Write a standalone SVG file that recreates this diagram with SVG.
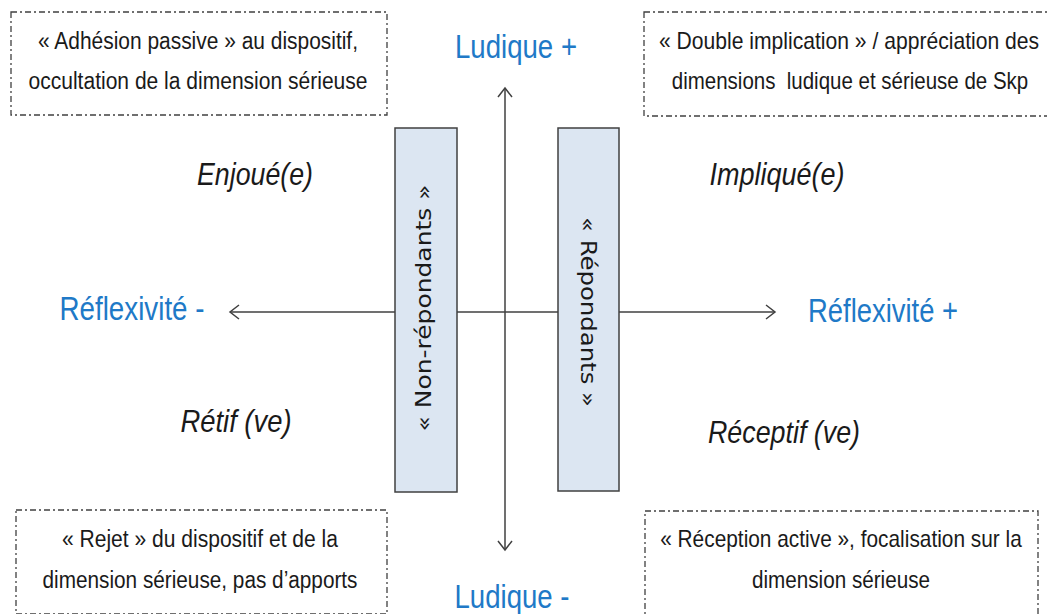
<svg xmlns="http://www.w3.org/2000/svg" width="1047" height="614" viewBox="0 0 1047 614">
  <style>
    .box { fill: none; stroke: #404040; stroke-width: 1.3; stroke-dasharray: 6 3 2 3; }
    .bt { font-family: "Liberation Sans", Arial, sans-serif; font-size: 23px; fill: #1a1a1a; text-anchor: middle; }
    .ax { font-family: "Liberation Sans", Arial, sans-serif; font-size: 33px; fill: #2079C7; text-anchor: middle; }
    .it { font-family: "Liberation Sans", Arial, sans-serif; font-size: 32px; font-style: italic; fill: #1a1a1a; text-anchor: middle; }
    .bar { fill: #DCE6F2; stroke: #404040; stroke-width: 1.5; }
    .vt { font-family: "DejaVu Sans", Verdana, sans-serif; font-size: 21px; fill: #1a1a1a; text-anchor: middle; }
    .axis { stroke: #404040; stroke-width: 1.5; fill: none; }
  </style>
  <defs>
    <marker id="arr" viewBox="-10 -8 12 16" markerWidth="12" markerHeight="16" refX="0" refY="0" orient="auto-start-reverse" markerUnits="userSpaceOnUse">
      <path d="M -9 -7 L 0 0 L -9 7" fill="none" stroke="#404040" stroke-width="1.5"/>
    </marker>
  </defs>
  <rect width="1047" height="614" fill="#ffffff"/>

  <g id="connectors">
    <line class="axis" x1="230" y1="312" x2="775" y2="312" marker-start="url(#arr)" marker-end="url(#arr)"/>
    <line class="axis" x1="505" y1="88" x2="505" y2="550" marker-start="url(#arr)" marker-end="url(#arr)"/>
  </g>

  <g id="box-tl">
    <rect class="box" x="11" y="12" width="376" height="103"/>
    <text class="bt" x="198" y="49" textLength="320" lengthAdjust="spacingAndGlyphs">« Adhésion passive » au dispositif,</text>
    <text class="bt" x="198" y="89" textLength="339" lengthAdjust="spacingAndGlyphs">occultation de la dimension sérieuse</text>
  </g>
  <g id="box-tr">
    <rect class="box" x="644" y="12" width="410" height="104"/>
    <text class="bt" transform="translate(849 49) scale(0.88 1)" x="0" y="0" textLength="432" lengthAdjust="spacingAndGlyphs">« Double implication » / appréciation des</text>
    <text class="bt" transform="translate(850 89) scale(0.88 1)" x="0" y="0" textLength="405" lengthAdjust="spacingAndGlyphs" xml:space="preserve">dimensions  ludique et sérieuse de Skp</text>
  </g>
  <g id="box-bl">
    <rect class="box" x="16" y="510" width="371" height="104"/>
    <text class="bt" x="200" y="547" textLength="276" lengthAdjust="spacingAndGlyphs">« Rejet » du dispositif et de la</text>
    <text class="bt" x="200" y="588" textLength="315" lengthAdjust="spacingAndGlyphs">dimension sérieuse, pas d’apports</text>
  </g>
  <g id="box-br">
    <rect class="box" x="645" y="511" width="393" height="104"/>
    <text class="bt" transform="translate(841 547) scale(0.88 1)" x="0" y="0" textLength="411" lengthAdjust="spacingAndGlyphs">« Réception active », focalisation sur la</text>
    <text class="bt" x="841" y="588" textLength="178" lengthAdjust="spacingAndGlyphs">dimension sérieuse</text>
  </g>

  <g id="non-repondants">
    <rect class="bar" x="395" y="128" width="62" height="364"/>
    <text class="vt" transform="translate(431 308) rotate(-90)" textLength="247" lengthAdjust="spacingAndGlyphs">« Non-répondants »</text>
  </g>
  <g id="repondants">
    <rect class="bar" x="558" y="128" width="61" height="363"/>
    <text class="vt" transform="translate(581 312) rotate(90)" textLength="190" lengthAdjust="spacingAndGlyphs">« Répondants »</text>
  </g>

  <g id="ludique-plus"><text class="ax" x="516" y="58" textLength="122" lengthAdjust="spacingAndGlyphs">Ludique +</text></g>
  <g id="ludique-moins"><text class="ax" x="512" y="608" textLength="115" lengthAdjust="spacingAndGlyphs">Ludique -</text></g>
  <g id="reflexivite-moins"><text class="ax" x="132" y="320" textLength="145" lengthAdjust="spacingAndGlyphs">Réflexivité -</text></g>
  <g id="reflexivite-plus"><text class="ax" x="883" y="322" textLength="150" lengthAdjust="spacingAndGlyphs">Réflexivité +</text></g>

  <g id="enjoue"><text class="it" x="255" y="185" textLength="116" lengthAdjust="spacingAndGlyphs">Enjoué(e)</text></g>
  <g id="implique"><text class="it" x="777" y="185" textLength="135" lengthAdjust="spacingAndGlyphs">Impliqué(e)</text></g>
  <g id="retif"><text class="it" x="236" y="432" textLength="111" lengthAdjust="spacingAndGlyphs">Rétif (ve)</text></g>
  <g id="receptif"><text class="it" x="784" y="443" textLength="152" lengthAdjust="spacingAndGlyphs">Réceptif (ve)</text></g>
</svg>
